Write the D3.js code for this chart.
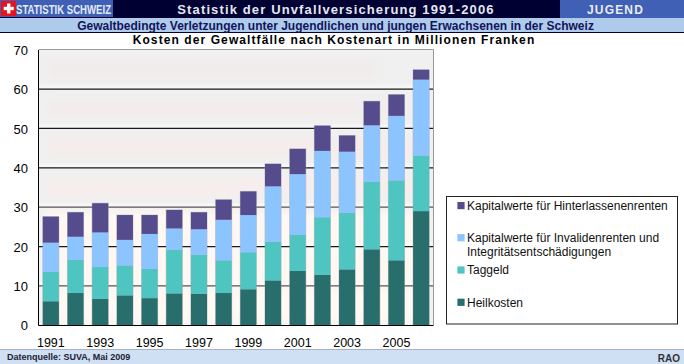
<!DOCTYPE html>
<html><head><meta charset="utf-8">
<script src="https://cdn.jsdelivr.net/npm/d3@7/dist/d3.min.js"></script>
<style>html,body{margin:0;padding:0;background:#fff}svg{display:block}text{font-family:"Liberation Sans",Arial,sans-serif}</style>
</head><body><svg id="c" width="684" height="364"></svg>
<script>
const years=[1991,1992,1993,1994,1995,1996,1997,1998,1999,2000,2001,2002,2003,2004,2005,2006];
const tickLabels=[1991,1993,1995,1997,1999,2001,2003,2005];
const heilkosten=[6.1,8.2,6.7,7.6,6.9,8.1,8.0,8.2,9.15,11.4,13.8,12.8,14.2,19.3,16.5,29.0];
const taggeld=[7.5,8.4,8.1,7.6,7.4,11.1,9.9,8.3,9.4,9.8,9.2,14.65,14.35,17.1,20.3,14.1];
const invaliden=[7.4,5.9,8.8,6.5,8.9,5.4,6.5,10.3,9.45,14.1,15.4,16.85,15.55,14.4,16.4,19.3];
const hinterlassen=[6.6,6.2,7.4,6.3,4.8,4.7,4.3,5.1,6.0,5.7,6.4,6.4,4.1,6.1,5.4,2.5];
const seriesNames=["Heilkosten","Taggeld","Kapitalwerte für Invalidenrenten und|Integritätsentschädigungen","Kapitalwerte für Hinterlassenenrenten"];
const seriesColors=["#276e6c","#4fc5c2","#8cc4ff","#544c8c"];
const yTicks=[0,10,20,30,40,50,60,70];

const svg=d3.select("#c");
const x=d3.scaleBand().domain(years).range([38.5,433.5]).paddingInner(0.35).paddingOuter(0.175);
const y=d3.scaleLinear().domain([0,70]).range([325.3,49.7]);
const defs=svg.append("defs");
const blur=(id,s)=>defs.append("filter").attr("id",id).attr("x","-20%").attr("y","-20%").attr("width","140%").attr("height","140%")
  .append("feGaussianBlur").attr("stdDeviation",s);
blur("blur",3.5); blur("glow",1.6);

// header bands
svg.append("rect").attr("width",684).attr("height",18).attr("fill","#000033");
svg.append("rect").attr("width",113).attr("height",17).attr("fill","#3f60b5");
svg.append("rect").attr("x",560).attr("width",124).attr("height",18).attr("fill","#3f60b5");
svg.append("rect").attr("x",1).attr("y",1).attr("width",15).attr("height",15).attr("fill","#e8131f");
svg.append("rect").attr("x",7).attr("y",3.5).attr("width",3.4).attr("height",10).attr("fill","#fff");
svg.append("rect").attr("x",3.7).attr("y",6.8).attr("width",10).attr("height",3.4).attr("fill","#fff");
svg.append("text").attr("x",16).attr("y",13.5).attr("font-size",13.5).attr("font-weight","bold").attr("fill","#e4ecf8").attr("textLength",95).attr("lengthAdjust","spacingAndGlyphs").text("STATISTIK SCHWEIZ");
svg.append("text").attr("x",336).attr("y",13.5).attr("text-anchor","middle").attr("font-size",13).attr("font-weight","bold").attr("letter-spacing",1.13).attr("fill","#e4e8f2").text("Statistik der Unvfallversicherung 1991-2006");
svg.append("text").attr("x",615.5).attr("y",14).attr("text-anchor","middle").attr("font-size",12).attr("font-weight","bold").attr("letter-spacing",1.2).attr("fill","#e8ecf6").text("JUGEND");
svg.append("rect").attr("y",18).attr("width",684).attr("height",14).attr("fill","#aecbec");
svg.append("rect").attr("y",32).attr("width",684).attr("height",1).attr("fill","#000033");
svg.append("text").attr("x",335.5).attr("y",30).attr("text-anchor","middle").attr("font-size",12).attr("font-weight","bold").attr("fill","#14145a").text("Gewaltbedingte Verletzungen unter Jugendlichen und jungen Erwachsenen in der Schweiz");
svg.append("text").attr("x",334).attr("y",44).attr("text-anchor","middle").attr("font-size",12).attr("font-weight","bold").attr("letter-spacing",1.09).attr("fill","#000").text("Kosten der Gewaltfälle nach Kostenart in Millionen Franken");

// plot background
svg.append("rect").attr("x",38.5).attr("y",49.7).attr("width",395).attr("height",275.6).attr("fill","#f0f0f0");
const bandG=svg.append("g").attr("filter","url(#blur)");
d3.range(30,70,10).forEach(v=>{
  const fade=d3.scaleLinear().domain([30,60]).range(["#f5eeec","#f1ecec"])(v);
  bandG.append("rect").attr("x",47).attr("y",y(v+10)+9).attr("width",v>=40?370-(v-40)*2:378).attr("height",y(v)-y(v+10)-19).attr("fill",fade);
});
const lowerG=svg.append("g").attr("filter","url(#blur)");
lowerG.append("rect").attr("x",44).attr("y",y(10)+2).attr("width",384).attr("height",y(0)-y(10)-4).attr("fill","#fff8f3");
lowerG.append("rect").attr("x",44).attr("y",y(30)+4).attr("width",384).attr("height",y(10)-y(30)-4).attr("fill","#fff7f2");

// gridlines
const grid=yTicks.filter(d=>d>0&&d<70);
svg.append("g").selectAll("rect").data(grid).join("rect")
  .attr("x",39).attr("width",394).attr("y",d=>y(d)-3.5).attr("height",3).attr("fill","#fff").attr("opacity",0.7).attr("filter","url(#glow)");
svg.append("g").selectAll("line").data(grid).join("line")
  .attr("x1",38.5).attr("x2",433.5).attr("y1",d=>y(d)).attr("y2",d=>y(d))
  .attr("stroke",d=>d===10||d===30?"#5a5252":"#1a1a1a").attr("stroke-width",1.2);

const stack=d3.stack().keys([0,1,2,3]).value((i,k)=>[heilkosten,taggeld,invaliden,hinterlassen][k][i])(d3.range(years.length));
// grey edge around the columns
svg.append("g").selectAll("rect").data(d3.range(years.length)).join("rect")
  .attr("x",i=>x(years[i])-0.5).attr("width",x.bandwidth()+1)
  .attr("y",i=>y(stack[3][i][1])-0.5).attr("height",i=>y(0)-y(stack[3][i][1])+0.5).attr("fill","#9a9aa4").attr("opacity",0.55);
stack.forEach((s,k)=>{
  svg.append("g").selectAll("rect").data(s).join("rect")
    .attr("x",(d,i)=>x(years[i])).attr("width",x.bandwidth())
    .attr("y",d=>y(d[1])).attr("height",d=>y(d[0])-y(d[1])).attr("fill",seriesColors[k]);
});

// plot frame
svg.append("path").attr("d","M38.5,49.5H433.5V325").attr("fill","none").attr("stroke","#999").attr("stroke-width",1);
svg.append("path").attr("d","M38.5,50V325.5H433.5").attr("fill","none").attr("stroke","#000").attr("stroke-width",1);

// axes labels via scales
const yAxis=d3.axisLeft(y).tickValues(yTicks).tickSize(0).tickPadding(0);
const ya=svg.append("g").attr("transform","translate(28,0)").call(yAxis);
ya.select(".domain").remove();
ya.selectAll("text").attr("font-size",13).attr("fill","#000").attr("font-family","Liberation Sans").attr("dy","0.36em");
const xAxis=d3.axisBottom(x).tickValues(tickLabels).tickSize(0).tickPadding(0);
const xa=svg.append("g").attr("transform","translate(0,338)").call(xAxis);
xa.select(".domain").remove();
xa.selectAll("text").attr("font-size",12.5).attr("fill","#000").attr("font-family","Liberation Sans").attr("dy","0.71em");

// legend
svg.append("rect").attr("x",446.5).attr("y",196.5).attr("width",231).attr("height",127.5).attr("fill","#fff").attr("stroke","#222").attr("stroke-width",1);
const legendRows=[{k:3,y:205.6},{k:2,y:237.7},{k:1,y:270},{k:0,y:302.3}];
legendRows.forEach(r=>{
  svg.append("rect").attr("x",457.4).attr("y",r.y-3.6).attr("width",7.2).attr("height",7.2).attr("fill",seriesColors[r.k]);
  seriesNames[r.k].split("|").forEach((t,j)=>{
    svg.append("text").attr("x",467).attr("y",r.y+j*14+4.3).attr("font-size",12).attr("fill","#111").text(t);
  });
});

// footer
svg.append("rect").attr("y",350).attr("width",684).attr("height",14).attr("fill","#cfdff4");
svg.append("rect").attr("y",349).attr("width",684).attr("height",1).attr("fill","#a8b0c4");
svg.append("text").attr("x",7).attr("y",360).attr("font-size",9).attr("font-weight","bold").attr("fill","#223").text("Datenquelle: SUVA, Mai 2009");
svg.append("text").attr("x",680).attr("y",361.5).attr("text-anchor","end").attr("font-size",10).attr("font-weight","bold").attr("fill","#333").text("RAO");
</script></body></html>
